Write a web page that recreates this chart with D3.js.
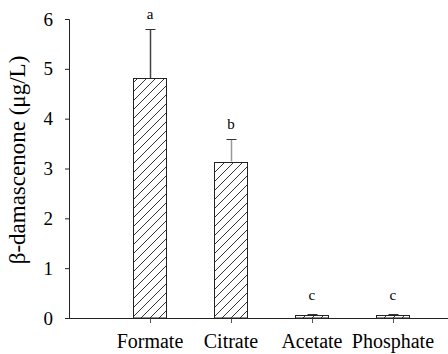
<!DOCTYPE html>
<html>
<head>
<meta charset="utf-8">
<script src="https://cdn.jsdelivr.net/npm/d3@7"></script>
<style>
  body { margin: 0; background: #fff; }
</style>
</head>
<body>
<div id="chart"></div>
<script>
// data
var buffers = ["Formate", "Citrate", "Acetate", "Phosphate"];
var means = [4.81, 3.14, 0.06, 0.06];
var errors = [0.98, 0.45, 0.02, 0.02];
var letters = ["a", "b", "c", "c"];
var yTicks = [0, 1, 2, 3, 4, 5, 6];

var svgWidth = 448, svgHeight = 354;
var serif = "Liberation Serif";

var svg = d3.select("#chart").append("svg")
  .attr("width", svgWidth)
  .attr("height", svgHeight)
  .attr("font-family", serif);

// diagonal hatch for the bars
var defs = svg.append("defs");
var pattern = defs.append("pattern")
  .attr("id", "hatch")
  .attr("patternUnits", "userSpaceOnUse")
  .attr("width", 9)
  .attr("height", 9);
pattern.append("rect").attr("width", 9).attr("height", 9).attr("fill", "#fff");
pattern.append("path")
  .attr("d", "M0,9 L9,0 M-2,2 L2,-2 M7,11 L11,7")
  .attr("stroke", "#333")
  .attr("stroke-width", 1);

// scales
var xScale = d3.scaleLinear().domain([0, 4.68]).range([69, 448]);
var yScale = d3.scaleLinear().domain([0, 6]).range([318, 19]);
var barWidth = 33;

// y axis
var leftAxis = d3.axisLeft(yScale).tickValues(yTicks).tickSize(4).tickPadding(12).tickFormat(d3.format("d"));
var yAxis = svg.append("g")
  .attr("transform", "translate(69,0)")
  .call(leftAxis)
  .attr("font-family", serif)
  .attr("font-size", 19);
yAxis.select(".domain").attr("stroke", "#222").attr("d", "M-4,19.5H0.5V318");
yAxis.selectAll("line").attr("stroke", "#222");
yAxis.selectAll("text")
  .attr("font-family", serif)
  .attr("font-size", 19)
  .attr("fill", "#000");

// x axis line
svg.append("line")
  .attr("x1", 69).attr("x2", 448)
  .attr("y1", yScale(0) + 0.5).attr("y2", yScale(0) + 0.5)
  .attr("stroke", "#222");

// x ticks under each bar
svg.selectAll(".xtick")
  .data(buffers)
  .enter()
  .append("line")
  .attr("class", "xtick")
  .attr("x1", (d, i) => Math.round(xScale(i + 1)) + 0.5)
  .attr("x2", (d, i) => Math.round(xScale(i + 1)) + 0.5)
  .attr("y1", yScale(0))
  .attr("y2", yScale(0) + 5)
  .attr("stroke", "#555");

// bars
svg.selectAll(".bar")
  .data(means)
  .enter()
  .append("rect")
  .attr("class", "bar")
  .attr("x", (d, i) => Math.round(xScale(i + 1) - barWidth / 2) + 0.5)
  .attr("y", d => Math.round(yScale(d)) + 0.5)
  .attr("width", barWidth)
  .attr("height", d => Math.max(yScale(0) - Math.round(yScale(d)) - 0.5, 1))
  .attr("fill", "url(#hatch)")
  .attr("stroke", "#222")
  .attr("stroke-width", 1);

// error bars
var errGroup = svg.selectAll(".err")
  .data(means)
  .enter()
  .append("g")
  .attr("class", "err");

errGroup.append("line")
  .attr("x1", (d, i) => Math.round(xScale(i + 1)) + 0.5)
  .attr("x2", (d, i) => Math.round(xScale(i + 1)) + 0.5)
  .attr("y1", d => yScale(d))
  .attr("y2", (d, i) => yScale(d + errors[i]))
  .attr("stroke", (d, i) => i === 1 ? "#999" : "#444")
  .attr("stroke-width", 1.5);

errGroup.append("line")
  .attr("x1", (d, i) => Math.round(xScale(i + 1)) - 4.5)
  .attr("x2", (d, i) => Math.round(xScale(i + 1)) + 5.5)
  .attr("y1", (d, i) => Math.round(yScale(d + errors[i])) + 0.5)
  .attr("y2", (d, i) => Math.round(yScale(d + errors[i])) + 0.5)
  .attr("stroke", "#333");

// significance letters
svg.selectAll(".letter")
  .data(letters)
  .enter()
  .append("text")
  .attr("class", "letter")
  .attr("x", (d, i) => xScale(i + 1))
  .attr("y", (d, i) => Math.min(yScale(means[i] + errors[i]) - 10, 300))
  .attr("text-anchor", "middle")
  .attr("font-family", serif)
  .attr("font-size", 15)
  .text(d => d);

// category labels
svg.selectAll(".xlabel")
  .data(buffers)
  .enter()
  .append("text")
  .attr("class", "xlabel")
  .attr("x", (d, i) => xScale(i + 1))
  .attr("y", 348)
  .attr("text-anchor", "middle")
  .attr("font-family", serif)
  .attr("font-size", 20)
  .text(d => d);

// y axis title
svg.append("text")
  .attr("transform", "rotate(-90)")
  .attr("x", -160)
  .attr("y", 25)
  .attr("text-anchor", "middle")
  .attr("font-family", serif)
  .attr("font-size", 23)
  .text("β-damascenone (μg/L)");
</script>
</body>
</html>
